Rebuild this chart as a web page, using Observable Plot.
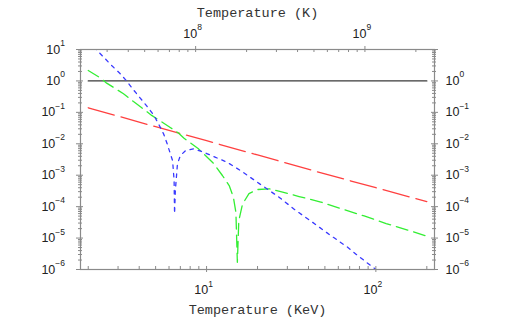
<!DOCTYPE html>
<html><head><meta charset="utf-8">
<script src="https://cdn.jsdelivr.net/npm/d3@7"></script>
<script src="https://cdn.jsdelivr.net/npm/@observablehq/plot@0.6"></script>
<style>html,body{margin:0;padding:0;background:#fff}#chart svg{display:block}</style>
</head><body><div id="chart"></div>
<script>
// ---- data ----
const blackT = [2, 200];
const blackV = [1, 1];

const redT = [2, 5, 10, 20, 50, 100, 200];
const redV = [0.14, 0.035, 0.0125, 0.0044, 1.1e-3, 4.0e-4, 1.45e-4];

const greenT = [2.0, 2.35, 2.57, 2.94, 3.23, 3.70, 4.14, 4.74, 5.2, 6.1, 6.82, 7.36, 8.91, 10.9, 12.4, 13.6, 14.4, 14.9, 15.2, 15.5, 16.3, 17.8, 20.0, 23.4, 27.4, 35.2, 47.3, 62.1, 85.3, 115, 154, 203];
const greenV = [2.15, 1.26, 0.85, 0.54, 0.39, 0.22, 0.14, 0.08, 0.058, 0.033, 0.022, 0.015, 0.0071, 0.0025, 9.8e-4, 4.7e-4, 2.0e-4, 6.6e-5, 1.7e-6, 3.6e-5, 1.2e-4, 2.6e-4, 3.5e-4, 3.7e-4, 3.0e-4, 2.1e-4, 1.4e-4, 8.7e-5, 5.05e-5, 2.9e-5, 1.8e-5, 1.12e-5];

const blueT = [2.0, 2.26, 2.75, 3.08, 3.37, 3.70, 4.44, 4.85, 5.2, 5.57, 5.85, 6.30, 6.43, 6.47, 6.54, 6.73, 7.0, 7.5, 8.4, 9.6, 11.3, 13.2, 15.9, 20.6, 26.8, 33.6, 42.2, 54.2, 68.1, 78, 100];
const blueV = [19, 9.3, 3.1, 1.72, 1.0, 0.52, 0.157, 0.0855, 0.043, 0.0208, 0.010, 0.0029, 6.8e-4, 6e-5, 3.3e-4, 2.3e-3, 4.2e-3, 6.0e-3, 6.9e-3, 5.4e-3, 3.7e-3, 2.6e-3, 1.4e-3, 5.3e-4, 2.0e-4, 7.6e-5, 3.2e-5, 1.2e-5, 5.1e-6, 2.8e-6, 1.0e-6];

// ---- ticks ----
const xMajor = [10, 100];
const xMinor = [2, 3, 4, 5, 6, 7, 8, 9, 20, 30, 40, 50, 60, 70, 80, 90, 200];
const topMajorK = [1e8, 1e9];
const topMinorK = [3e7, 4e7, 5e7, 6e7, 7e7, 8e7, 9e7, 2e8, 3e8, 4e8, 5e8, 6e8, 7e8, 8e8, 9e8, 2e9];
const KELVIN_PER_KEV = 1.160452e7;
const yMajor = [1e-6, 1e-5, 1e-4, 1e-3, 1e-2, 1e-1, 1e0, 1e1];
const yRightLabels = [1e-6, 1e-5, 1e-4, 1e-3, 1e-2, 1e-1, 1e0];
const mantissas = [2, 3, 4, 5, 6, 7, 8, 9];
const yDecades = [1e-6, 1e-5, 1e-4, 1e-3, 1e-2, 1e-1, 1e0];
const yMinor = yDecades.flatMap(d => mantissas.map(m => m * d));

const xTitle = "Temperature (KeV)";
const topTitle = "Temperature (K)";

const toRows = (T, V) => T.map((t, i) => ({t, v: V[i]}));

const W = 514, H = 318, ML = 80, MR = 80, MT = 49, MB = 49;
const FW = W - ML - MR, FH = H - MT - MB;
const tickColor = "#8a8a8a";
const expFmt = d => "10^" + Math.round(Math.log10(d));
const monoFont = "'Liberation Mono', 'Courier New', monospace";

const lineOpts = {x: "t", y: "v", clip: true, strokeWidth: 1.3};

const chart = Plot.plot({
  width: W, height: H,
  marginLeft: ML, marginRight: MR, marginTop: MT, marginBottom: MB,
  style: {fontFamily: "'Liberation Sans', Arial, sans-serif", fontSize: "12.5px", color: "#222", background: "#fff"},
  x: {type: "log", domain: [1.8, 222], axis: null},
  y: {type: "log", domain: [1e-6, 10], axis: null},
  marks: [
    Plot.line(toRows(blackT, blackV), {...lineOpts, stroke: "#3a3a3a"}),
    Plot.line(toRows(redT, redV), {...lineOpts, stroke: "#ff4040", strokeDasharray: "27,7"}),
    Plot.line(toRows(greenT, greenV), {...lineOpts, stroke: "#33ee33", strokeDasharray: "12,6"}),
    Plot.line(toRows(blueT, blueV), {...lineOpts, stroke: "#3a3aff", strokeDasharray: "3.5,5"}),
    Plot.frame({stroke: tickColor, strokeWidth: 1.2}),
    // left ticks
    Plot.tickY(yMajor, {y: d => d, stroke: tickColor, insetLeft: -4, insetRight: FW - 3}),
    Plot.tickY(yMinor, {y: d => d, stroke: tickColor, insetLeft: -2, insetRight: FW - 2}),
    // right ticks
    Plot.tickY(yMajor, {y: d => d, stroke: tickColor, insetRight: -4, insetLeft: FW - 3}),
    Plot.tickY(yMinor, {y: d => d, stroke: tickColor, insetRight: -2, insetLeft: FW - 2}),
    // bottom ticks
    Plot.tickX(xMajor, {x: d => d, stroke: tickColor, insetBottom: -3, insetTop: FH - 3}),
    Plot.tickX(xMinor, {x: d => d, stroke: tickColor, insetBottom: 0, insetTop: FH - 3}),
    // top ticks (Kelvin axis, same scale)
    Plot.tickX(topMajorK, {x: k => k / KELVIN_PER_KEV, stroke: tickColor, insetTop: -3, insetBottom: FH - 3}),
    Plot.tickX(topMinorK, {x: k => k / KELVIN_PER_KEV, stroke: tickColor, insetTop: 0, insetBottom: FH - 3}),
    // tick labels
    Plot.axisY(yMajor, {anchor: "left", tickSize: 0, tickPadding: 15.5, tickFormat: expFmt, label: null, fill: "#222"}),
    Plot.axisY(yRightLabels, {anchor: "right", tickSize: 0, tickPadding: 11, tickFormat: expFmt, label: null, fill: "#222"}),
    Plot.axisX(xMajor, {anchor: "bottom", tickSize: 0, tickPadding: 16, tickFormat: expFmt, label: null, dx: -3, fill: "#222"}),
    Plot.text(topMajorK, {x: k => k / KELVIN_PER_KEV, text: k => expFmt(k), frameAnchor: "top", dy: -12, dx: -3, lineAnchor: "bottom", fontSize: 12.5, fill: "#222"}),
    // titles
    Plot.text([xTitle], {text: d => d, frameAnchor: "bottom", dy: 40, lineAnchor: "middle", fontFamily: monoFont, fontSize: 13.5, fill: "#333"}),
    Plot.text([topTitle], {text: d => d, frameAnchor: "top", dy: -37, lineAnchor: "middle", fontFamily: monoFont, fontSize: 13.5, fill: "#333"})
  ]
});

// superscript exponents
chart.querySelectorAll("text").forEach(t => {
  const m = t.textContent.match(/^10\^(-?\d+)$/);
  if (!m) return;
  const exp = m[1].replace("-", "\u2212");
  while (t.firstChild) t.removeChild(t.firstChild);
  t.appendChild(document.createTextNode("10"));
  const ts = document.createElementNS("http://www.w3.org/2000/svg", "tspan");
  ts.setAttribute("dy", "-7.5");
  ts.setAttribute("font-size", "8.5");
  ts.textContent = exp;
  t.appendChild(ts);
});

document.getElementById("chart").appendChild(chart);
</script>
</body></html>
